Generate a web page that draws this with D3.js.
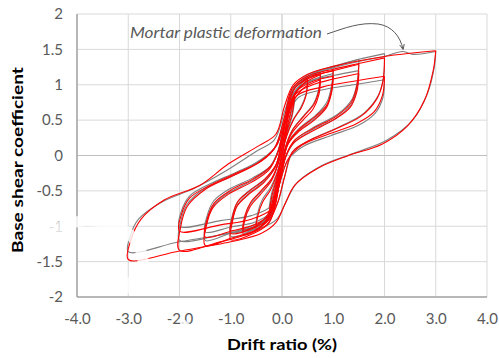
<!DOCTYPE html>
<html><head><meta charset="utf-8">
<script src="https://cdn.jsdelivr.net/npm/d3@7"></script>
<style>
body{margin:0;background:#fff;}
svg{display:block;}
text{font-family:Lato,"Open Sans",sans-serif;}
</style></head>
<body><svg id="c" width="499" height="358"></svg>
<script>
// ---- data ----
const xTicks = [-4, -3, -2, -1, 0, 1, 2, 3, 4];
const xTickLabels = ["-4.0","-3.0","-2.0","-1.0","0.0","1.0","2.0","3.0","4.0"];
const yTicks = [-2, -1.5, -1, -0.5, 0, 0.5, 1, 1.5, 2];
const yTickLabels = ["-2","-1.5","-1","-0.5","0","0.5","1","1.5","2"];
const xTitle = "Drift ratio (%)";
const yTitle = "Base shear coefficient";
const noteText = "Mortar plastic deformation";

// experimental (gray) hysteresis loops: [drift %, base shear coefficient]
const grayLoops = [
 [[3.0,1.47],[2.97,1.24],[2.84,0.88],[2.55,0.5],[2.05,0.22],[1.4,0.03],[0.78,-0.14],[0.3,-0.38],[0.1,-0.62],[-0.1,-0.9],[-0.4,-1.02],[-1.0,-1.1],[-2.0,-1.22],[-3.0,-1.36],[-2.97,-1.16],[-2.8,-0.9],[-2.35,-0.66],[-1.7,-0.46],[-1.1,-0.22],[-0.5,0.06],[-0.15,0.22],[0.05,0.62],[0.22,0.95],[0.55,1.12],[1.0,1.24],[1.5,1.33],[2.0,1.4],[2.35,1.47],[2.55,1.43],[3.0,1.47]],
 [[2.0,1.44],[1.98,1.1],[1.88,0.85],[1.6,0.6],[1.1,0.4],[0.55,0.22],[0.22,0.06],[0.06,-0.28],[-0.08,-0.66],[-0.3,-0.92],[-0.7,-1.04],[-1.2,-1.12],[-2.0,-1.2],[-1.98,-0.95],[-1.86,-0.7],[-1.52,-0.47],[-1.0,-0.3],[-0.5,-0.1],[-0.15,0.1],[0.05,0.55],[0.2,0.92],[0.5,1.12],[1.0,1.25],[1.5,1.36],[2.0,1.44]],
 [[2.0,1.07],[1.97,0.82],[1.82,0.6],[1.5,0.43],[0.95,0.28],[0.42,0.13],[0.12,-0.06],[-0.05,-0.4],[-0.22,-0.72],[-0.6,-0.85],[-1.2,-0.92],[-2.0,-1.0],[-1.97,-0.8],[-1.8,-0.57],[-1.4,-0.4],[-0.9,-0.24],[-0.4,-0.06],[-0.1,0.15],[0.08,0.52],[0.32,0.82],[0.8,0.93],[1.4,1.0],[2.0,1.07]],
 [[1.5,1.36],[1.47,1.05],[1.37,0.8],[1.08,0.58],[0.62,0.4],[0.26,0.22],[0.08,0.0],[-0.05,-0.4],[-0.2,-0.82],[-0.5,-1.0],[-1.0,-1.1],[-1.5,-1.2],[-1.47,-0.94],[-1.35,-0.72],[-1.05,-0.53],[-0.6,-0.36],[-0.25,-0.18],[-0.08,0.06],[0.05,0.48],[0.2,0.92],[0.5,1.14],[1.0,1.26],[1.5,1.36]],
 [[1.5,1.2],[1.46,0.94],[1.35,0.72],[1.04,0.52],[0.58,0.36],[0.23,0.18],[0.07,-0.03],[-0.06,-0.42],[-0.22,-0.8],[-0.52,-0.94],[-1.0,-1.01],[-1.5,-1.08],[-1.46,-0.85],[-1.33,-0.64],[-1.02,-0.47],[-0.58,-0.32],[-0.23,-0.15],[-0.07,0.08],[0.06,0.5],[0.22,0.88],[0.55,1.05],[1.0,1.13],[1.5,1.2]],
 [[1.0,1.26],[0.97,1.0],[0.88,0.76],[0.66,0.57],[0.36,0.4],[0.13,0.2],[0.02,-0.08],[-0.1,-0.52],[-0.25,-0.9],[-0.55,-1.05],[-1.0,-1.14],[-0.97,-0.92],[-0.87,-0.7],[-0.64,-0.53],[-0.34,-0.36],[-0.12,-0.14],[-0.02,0.16],[0.1,0.62],[0.26,0.98],[0.55,1.14],[1.0,1.26]],
 [[1.0,1.16],[0.97,0.92],[0.87,0.7],[0.64,0.52],[0.34,0.36],[0.12,0.17],[0.02,-0.1],[-0.1,-0.5],[-0.26,-0.86],[-0.56,-0.99],[-1.0,-1.06],[-0.97,-0.85],[-0.86,-0.65],[-0.63,-0.49],[-0.33,-0.33],[-0.11,-0.12],[-0.01,0.17],[0.1,0.6],[0.26,0.92],[0.56,1.06],[1.0,1.16]],
 [[0.75,1.18],[0.72,0.95],[0.62,0.74],[0.42,0.56],[0.2,0.36],[0.06,0.1],[-0.05,-0.3],[-0.18,-0.72],[-0.4,-0.96],[-0.75,-1.08],[-0.72,-0.87],[-0.62,-0.69],[-0.42,-0.52],[-0.2,-0.33],[-0.06,-0.07],[0.05,0.32],[0.18,0.78],[0.4,1.03],[0.75,1.18]],
 [[0.5,1.1],[0.47,0.87],[0.38,0.7],[0.22,0.51],[0.08,0.26],[-0.02,-0.05],[-0.12,-0.48],[-0.28,-0.84],[-0.5,-1.0],[-0.47,-0.8],[-0.38,-0.62],[-0.22,-0.45],[-0.08,-0.2],[0.03,0.12],[0.12,0.58],[0.28,0.93],[0.5,1.1]],
 [[0.25,0.8],[0.2,0.56],[0.1,0.32],[0.0,0.0],[-0.1,-0.35],[-0.25,-0.75],[-0.2,-0.53],[-0.1,-0.3],[0.0,0.03],[0.1,0.38],[0.25,0.8]]
];

// numerical (red) hysteresis loops
const redLoops = [
 [[3.0,1.48],[2.95,1.2],[2.78,0.78],[2.45,0.42],[1.95,0.16],[1.3,0.0],[0.7,-0.18],[0.25,-0.42],[0.05,-0.7],[-0.12,-0.95],[-0.4,-1.1],[-1.0,-1.22],[-2.0,-1.35],[-3.0,-1.47],[-2.96,-1.22],[-2.75,-0.9],[-2.3,-0.63],[-1.6,-0.42],[-1.05,-0.12],[-0.45,0.14],[-0.12,0.3],[0.05,0.7],[0.22,1.0],[0.5,1.15],[1.0,1.26],[2.0,1.4],[3.0,1.48]],
 [[2.0,1.38],[1.97,1.05],[1.85,0.8],[1.55,0.56],[1.0,0.36],[0.5,0.2],[0.2,0.05],[0.05,-0.3],[-0.1,-0.7],[-0.3,-0.98],[-0.7,-1.12],[-1.2,-1.22],[-2.0,-1.34],[-1.98,-1.02],[-1.85,-0.72],[-1.5,-0.48],[-1.0,-0.3],[-0.5,-0.12],[-0.15,0.1],[0.05,0.55],[0.2,0.95],[0.5,1.12],[1.0,1.22],[1.5,1.3],[2.0,1.38]],
 [[2.0,1.12],[1.96,0.85],[1.8,0.62],[1.45,0.45],[0.9,0.3],[0.4,0.15],[0.12,-0.05],[-0.05,-0.4],[-0.2,-0.75],[-0.6,-0.9],[-1.2,-0.98],[-2.0,-1.07],[-1.97,-0.85],[-1.8,-0.6],[-1.4,-0.42],[-0.9,-0.25],[-0.4,-0.08],[-0.1,0.15],[0.08,0.55],[0.3,0.85],[0.8,0.97],[1.4,1.05],[2.0,1.12]],
 [[1.5,1.29],[1.46,0.98],[1.35,0.75],[1.05,0.55],[0.6,0.38],[0.25,0.22],[0.08,0.0],[-0.05,-0.4],[-0.2,-0.85],[-0.5,-1.05],[-1.0,-1.17],[-1.5,-1.27],[-1.47,-0.98],[-1.35,-0.74],[-1.05,-0.55],[-0.6,-0.38],[-0.25,-0.2],[-0.08,0.05],[0.05,0.45],[0.2,0.9],[0.5,1.1],[1.0,1.2],[1.5,1.29]],
 [[1.5,1.16],[1.46,0.9],[1.33,0.68],[1.0,0.5],[0.55,0.33],[0.22,0.17],[0.06,-0.04],[-0.06,-0.44],[-0.22,-0.82],[-0.55,-0.98],[-1.0,-1.07],[-1.5,-1.15],[-1.46,-0.9],[-1.32,-0.67],[-1.0,-0.49],[-0.56,-0.33],[-0.22,-0.15],[-0.06,0.08],[0.07,0.5],[0.24,0.85],[0.6,1.0],[1.0,1.08],[1.5,1.16]],
 [[1.0,1.2],[0.97,0.95],[0.88,0.72],[0.65,0.55],[0.35,0.38],[0.12,0.18],[0.02,-0.1],[-0.1,-0.55],[-0.25,-0.95],[-0.55,-1.1],[-1.0,-1.19],[-0.97,-0.95],[-0.88,-0.72],[-0.65,-0.55],[-0.35,-0.38],[-0.12,-0.15],[-0.02,0.15],[0.1,0.6],[0.25,0.95],[0.55,1.1],[1.0,1.2]],
 [[1.0,1.12],[0.97,0.9],[0.87,0.68],[0.63,0.5],[0.33,0.34],[0.11,0.15],[0.01,-0.12],[-0.11,-0.55],[-0.27,-0.9],[-0.57,-1.03],[-1.0,-1.1],[-0.97,-0.88],[-0.87,-0.66],[-0.63,-0.5],[-0.33,-0.33],[-0.11,-0.12],[-0.01,0.16],[0.11,0.6],[0.27,0.9],[0.57,1.04],[1.0,1.12]],
 [[0.75,1.14],[0.72,0.92],[0.62,0.72],[0.42,0.55],[0.2,0.35],[0.06,0.1],[-0.05,-0.3],[-0.18,-0.75],[-0.4,-1.0],[-0.75,-1.12],[-0.72,-0.9],[-0.62,-0.72],[-0.42,-0.55],[-0.2,-0.35],[-0.06,-0.08],[0.05,0.3],[0.18,0.75],[0.4,1.0],[0.75,1.14]],
 [[0.75,1.07],[0.72,0.86],[0.61,0.66],[0.41,0.5],[0.19,0.31],[0.05,0.07],[-0.06,-0.32],[-0.19,-0.72],[-0.42,-0.95],[-0.75,-1.05],[-0.72,-0.84],[-0.61,-0.66],[-0.41,-0.5],[-0.19,-0.31],[-0.05,-0.05],[0.06,0.33],[0.19,0.72],[0.42,0.95],[0.75,1.07]],
 [[0.5,1.07],[0.47,0.85],[0.38,0.68],[0.22,0.5],[0.08,0.25],[-0.02,-0.05],[-0.12,-0.5],[-0.28,-0.88],[-0.5,-1.05],[-0.47,-0.85],[-0.38,-0.66],[-0.22,-0.48],[-0.08,-0.22],[0.03,0.1],[0.12,0.55],[0.28,0.9],[0.5,1.07]],
 [[0.25,0.85],[0.2,0.6],[0.1,0.35],[0.0,0.0],[-0.1,-0.38],[-0.25,-0.82],[-0.2,-0.58],[-0.1,-0.32],[0.0,0.02],[0.1,0.4],[0.25,0.85]]
];

// ---- drawing ----
const svg = d3.select("#c");
const x = d3.scaleLinear().domain([-4, 4]).range([77, 487]);
const y = d3.scaleLinear().domain([-2, 2]).range([297, 14]);

const grid = svg.append("g");
grid.selectAll("line.v").data(xTicks).join("line")
  .attr("x1", d => x(d)).attr("x2", d => x(d)).attr("y1", y(2)).attr("y2", y(-2))
  .attr("stroke", d => d === 0 ? "#bfbfbf" : "#d9d9d9").attr("stroke-width", 1);
grid.selectAll("line.h").data(yTicks).join("line")
  .attr("y1", d => y(d)).attr("y2", d => y(d)).attr("x1", x(-4)).attr("x2", x(4))
  .attr("stroke", d => d === 0 ? "#bfbfbf" : "#d9d9d9").attr("stroke-width", 1);

// axes lines
svg.append("line").attr("x1", x(-4)).attr("x2", x(-4)).attr("y1", y(2)).attr("y2", y(-2))
  .attr("stroke", "#a6a6a6").attr("stroke-width", 1.5);
svg.append("line").attr("x1", x(-4)).attr("x2", x(4)).attr("y1", y(-2)).attr("y2", y(-2))
  .attr("stroke", "#a6a6a6").attr("stroke-width", 1.5);

// tick labels via d3 axes
const xAxis = d3.axisBottom(x).tickValues(xTicks).tickFormat((d, i) => xTickLabels[i]).tickSize(0).tickPadding(16);
const gx = svg.append("g").attr("transform", `translate(0,${y(-2)})`).call(xAxis);
const yAxis = d3.axisLeft(y).tickValues(yTicks).tickFormat((d, i) => yTickLabels[i]).tickSize(0).tickPadding(14);
const gy = svg.append("g").attr("transform", `translate(${x(-4)},0)`).call(yAxis);
[gx, gy].forEach(g => {
  g.select(".domain").remove();
  g.selectAll("text").attr("fill", "#595959").style("font-size", "15px").style("font-family", "Lato, sans-serif");
});

// loops
const line = d3.line().x(d => x(d[0])).y(d => y(d[1])).curve(d3.curveCatmullRom.alpha(0.5));
svg.append("g").selectAll("path").data(grayLoops).join("path")
  .attr("d", line).attr("fill", "none").attr("stroke", "#7f7f7f").attr("stroke-width", 1.1);
svg.append("g").selectAll("path").data(redLoops).join("path")
  .attr("d", line).attr("fill", "none").attr("stroke", "#ff0000").attr("stroke-width", 1.1);

// watermark shapes (semi-transparent white overlay)
const wm = svg.append("g").attr("fill", "none").attr("stroke", "#fff").attr("stroke-opacity", 0.8)
  .attr("stroke-width", 11).attr("stroke-linecap", "butt");
wm.append("path").attr("d", "M-10,150 A40,40 0 0 1 56,181");
const wmLine = d3.line().curve(d3.curveCatmullRom.alpha(0.5));
wm.append("path").attr("d", wmLine([[124,290],[143,262],[127,232],[83,221],[38,240],[13,282],[20,318],[62,346],[90,362]]));
wm.append("path").attr("d", "M147,362 L185,327 L228,362");

// annotation
svg.append("text").attr("x", 130).attr("y", 38).attr("fill", "#595959")
  .attr("textLength", 192).attr("lengthAdjust", "spacingAndGlyphs")
  .style("font-size", "15.5px").style("font-style", "italic").text(noteText);
svg.append("defs").append("marker").attr("id", "ah").attr("viewBox", "0 0 10 10")
  .attr("refX", 8).attr("refY", 5).attr("markerWidth", 6).attr("markerHeight", 6).attr("orient", "auto")
  .append("path").attr("d", "M0,1 L9,5 L0,9").attr("fill", "none").attr("stroke", "#595959").attr("stroke-width", 1.5);
svg.append("path").attr("d", "M327,34 C345,28 360,22 378,24 C392,26 400,36 403,49")
  .attr("fill", "none").attr("stroke", "#595959").attr("stroke-width", 1).attr("marker-end", "url(#ah)");

// axis titles
svg.append("text").attr("x", 282).attr("y", 350).attr("text-anchor", "middle")
  .attr("textLength", 110).attr("lengthAdjust", "spacingAndGlyphs")
  .style("font-size", "15.5px").style("font-weight", "bold").attr("fill", "#000").text(xTitle);
svg.append("text").attr("transform", "translate(23,160) rotate(-90)").attr("text-anchor", "middle")
  .attr("textLength", 186).attr("lengthAdjust", "spacingAndGlyphs")
  .style("font-size", "15.5px").style("font-weight", "bold").attr("fill", "#000").text(yTitle);
</script></body></html>
